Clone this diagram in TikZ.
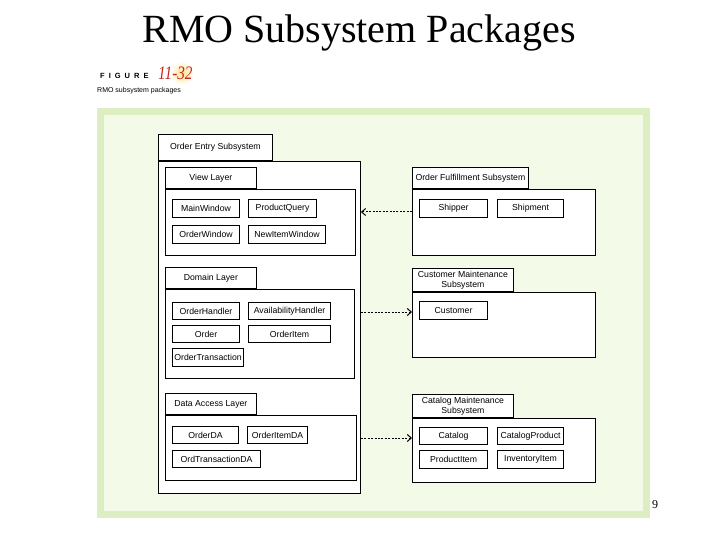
\documentclass[tikz,border=0pt]{standalone}
\usepackage{fontspec}
\setmainfont{Liberation Serif}
\setsansfont{Liberation Sans}
\usepackage{xcolor}
\usepackage{tikz}
\usetikzlibrary{arrows.meta,positioning,calc}

\definecolor{panelband}{RGB}{221,238,195}
\definecolor{panelfill}{RGB}{243,250,231}
\definecolor{figred}{RGB}{196,40,30}

\begin{document}
\begin{tikzpicture}[x=1pt, y=-1pt, >=Stealth,
  pkgtab/.style={draw, fill=white, line width=0.8pt, inner sep=0pt, align=center,
    anchor=south west, font=\sffamily\fontsize{8.7}{9.5}\selectfont},
  pkgbody/.style={draw, fill=white, line width=0.9pt, inner sep=0pt, anchor=north west},
  classbox/.style={draw, fill=white, line width=1.1pt, inner sep=0pt, anchor=north west,
    font=\sffamily\fontsize{8.7}{9.5}\selectfont},
  dep/.style={line width=1pt, dash pattern=on 2pt off 1.4pt,
    -{Straight Barb[length=4pt,width=7pt,line width=1pt]}}
]
\useasboundingbox (0,0) rectangle (720,540);

% ---------------- 1. SLIDE TITLE AND FIGURE HEADER ----------------
\node[font=\fontsize{40}{40}\selectfont, anchor=base] (title) at (359,43) {RMO Subsystem Packages};

\node[font=\sffamily\bfseries\fontsize{7.5}{7.5}\selectfont, anchor=west, inner sep=0pt] (figword) at (100,75.5)
  {F\hspace{4pt}I\hspace{4pt}G\hspace{4pt}U\hspace{4pt}R\hspace{4pt}E};
\shade[inner color=yellow!50!orange!45, outer color=white] (182,73) circle (12);
\node[font=\itshape\fontsize{19}{19}\selectfont, text=figred, anchor=base west, inner sep=0pt] (fignum) at (158,80)
  {\scalebox{0.8}[1]{11-32}};
\node[font=\sffamily\fontsize{7}{7}\selectfont, anchor=west, inner sep=0pt] (figcap) at (97,91) {RMO subsystem packages};

% ---------------- 2. GREEN PANEL ----------------
\fill[panelband] (97,108) rectangle (650,518);
\fill[panelfill] (104,115) rectangle (643,511);

% ---------------- 3. ORDER ENTRY SUBSYSTEM ----------------
\node[pkgbody, minimum width=202, minimum height=332] (oesBody) at (158,161) {};
\node[pkgtab, minimum width=114, minimum height=26] (oesTab) at (oesBody.north west) {Order Entry Subsystem};

% View layer
\node[pkgbody, minimum width=190, minimum height=66] (viewBody) at (165,189) {};
\node[pkgtab, minimum width=91, minimum height=21] (viewTab) at (viewBody.north west) {View Layer};
\node[classbox, minimum width=67, minimum height=18] (mainWin) at (172,199) {MainWindow};
\node[classbox, minimum width=68, minimum height=18] (prodQuery) at (248,199) {ProductQuery};
\node[classbox, minimum width=67, minimum height=18] (orderWin) at (172,225) {OrderWindow};
\node[classbox, minimum width=77, minimum height=18] (newItemWin) at (248,225) {NewItemWindow};

% Domain layer
\node[pkgbody, minimum width=189, minimum height=89] (domBody) at (165,289) {};
\node[pkgtab, minimum width=91, minimum height=21] (domTab) at (domBody.north west) {Domain Layer};
\node[classbox, minimum width=67, minimum height=17] (orderHandler) at (172,302) {OrderHandler};
\node[classbox, minimum width=82, minimum height=17] (availHandler) at (248,302) {AvailabilityHandler};
\node[classbox, minimum width=67, minimum height=17] (order) at (172,325) {Order};
\node[classbox, minimum width=82, minimum height=17] (orderItem) at (248,325) {OrderItem};
\node[classbox, minimum width=71, minimum height=18] (orderTrans) at (172,348) {OrderTransaction};

% Data access layer
\node[pkgbody, minimum width=191, minimum height=65] (daBody) at (165,415) {};
\node[pkgtab, minimum width=91, minimum height=21] (daTab) at (daBody.north west) {Data Access Layer};
\node[classbox, minimum width=66, minimum height=17] (orderDA) at (172,426) {OrderDA};
\node[classbox, minimum width=60, minimum height=17] (orderItemDA) at (247,426) {OrderItemDA};
\node[classbox, minimum width=88, minimum height=17] (ordTransDA) at (172,450) {OrdTransactionDA};

% ---------------- 4. RIGHT-HAND SUBSYSTEMS ----------------
% Order fulfillment
\node[pkgbody, minimum width=183, minimum height=66] (ofsBody) at (412,189) {};
\node[pkgtab, minimum width=116, minimum height=21] (ofsTab) at (ofsBody.north west) {Order Fulfillment Subsystem};
\node[classbox, minimum width=68, minimum height=18] (shipper) at (419,199) {Shipper};
\node[classbox, minimum width=66, minimum height=18] (shipment) at (497,199) {Shipment};

% Customer maintenance
\node[pkgbody, minimum width=183, minimum height=65] (cmsBody) at (412,292) {};
\node[pkgtab, minimum width=101, minimum height=23] (cmsTab) at (cmsBody.north west) {Customer Maintenance\\Subsystem};
\node[classbox, minimum width=68, minimum height=18] (customer) at (419,301) {Customer};

% Catalog maintenance
\node[pkgbody, minimum width=183, minimum height=64] (catBody) at (412,418) {};
\node[pkgtab, minimum width=101, minimum height=23] (catTab) at (catBody.north west) {Catalog Maintenance\\Subsystem};
\node[classbox, minimum width=68, minimum height=17] (catalog) at (419,427) {Catalog};
\node[classbox, minimum width=66, minimum height=17] (catProduct) at (497,427) {CatalogProduct};
\node[classbox, minimum width=68, minimum height=18] (prodItem) at (419,450) {ProductItem};
\node[classbox, minimum width=66, minimum height=18] (invItem) at (497,450) {InventoryItem};

% ---------------- 5. DEPENDENCIES ----------------
\draw[dep] (ofsBody.west |- 0,212) -- (oesBody.east |- 0,212);
\draw[dep] (oesBody.east |- 0,312) -- (cmsBody.west |- 0,312);
\draw[dep] (oesBody.east |- 0,438) -- (catBody.west |- 0,438);

% Slide number
\node[font=\fontsize{12}{12}\selectfont, anchor=base west, inner sep=0pt] (pageNum) at (652,508) {9};

\end{tikzpicture}
\end{document}
